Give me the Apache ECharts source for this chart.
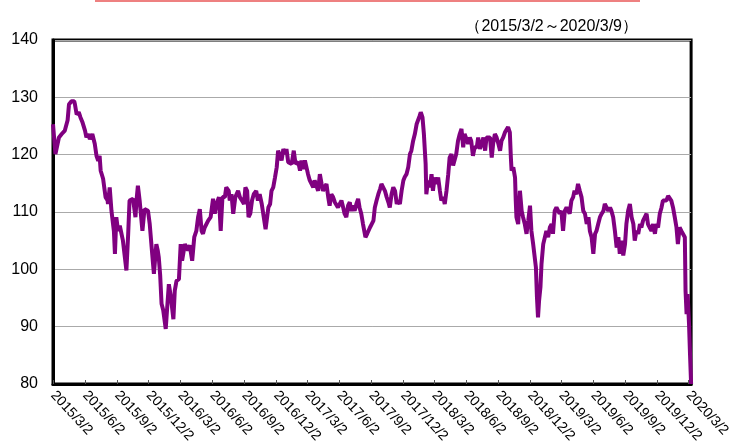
<!DOCTYPE html>
<html>
<head>
<meta charset="utf-8">
<script src="https://cdn.jsdelivr.net/npm/echarts@6/dist/echarts.min.js"></script>
<style>
  html, body { margin: 0; padding: 0; background: #fff; }
  #chart { width: 733px; height: 448px; }
</style>
</head>
<body>
<div id="chart"></div>
<script>
// 期間
const startDate = "2015/3/2";
const endDate = "2020/3/9";
// 目盛りラベル（四半期ごと）
const tickDates = [
  "2015/3/2", "2015/6/2", "2015/9/2", "2015/12/2",
  "2016/3/2", "2016/6/2", "2016/9/2", "2016/12/2",
  "2017/3/2", "2017/6/2", "2017/9/2", "2017/12/2",
  "2018/3/2", "2018/6/2", "2018/9/2", "2018/12/2",
  "2019/3/2", "2019/6/2", "2019/9/2", "2019/12/2",
  "2020/3/2"
];
// 2015/3/2からの経過日数
const dayOffset = [
  0, 7, 17, 25, 34, 42, 46, 53, 61, 63,
  68, 74, 79, 85, 92, 96, 101, 106, 113, 120,
  125, 130, 134, 137, 144, 149, 151, 157, 158, 163,
  168, 175, 178, 182, 187, 192, 201, 211, 216, 220,
  230, 237, 240, 244, 249, 257, 263, 273, 278, 284,
  290, 297, 301, 304, 308, 312, 317, 324, 329, 333,
  339, 346, 350, 355, 362, 367, 371, 379, 384, 388,
  393, 400, 406, 412, 417, 422, 427, 431, 436, 441,
  446, 453, 460, 465, 470, 474, 477, 482, 487, 494,
  498, 505, 508, 513, 518, 524, 532, 537, 543, 549,
  553, 558, 562, 567, 572, 577, 584, 589, 594, 600,
  605, 611, 614, 619, 624, 628, 633, 638, 643, 647,
  652, 657, 662, 667, 671, 676, 681, 686, 692, 697,
  705, 710, 714, 719, 724, 729, 733, 738, 743, 748,
  752, 757, 762, 767, 772, 776, 781, 786, 791, 795,
  800, 805, 810, 814, 819, 824, 829, 834, 838, 843,
  848, 853, 857, 862, 867, 872, 877, 881, 886, 891,
  898, 903, 911, 916, 921, 925, 930, 935, 940, 944,
  949, 954, 959, 964, 968, 973, 978, 983, 988, 992,
  997, 1002, 1007, 1011, 1016, 1021, 1026, 1030, 1035, 1040,
  1045, 1050, 1054, 1057, 1062, 1066, 1071, 1073, 1078, 1083,
  1088, 1092, 1097, 1102, 1107, 1112, 1116, 1121, 1126, 1131,
  1136, 1140, 1145, 1150, 1155, 1159, 1164, 1169, 1174, 1179,
  1183, 1188, 1193, 1198, 1202, 1207, 1212, 1218, 1222, 1227,
  1232, 1237, 1242, 1246, 1251, 1256, 1261, 1265, 1270, 1275,
  1280, 1285, 1289, 1294, 1299, 1304, 1308, 1313, 1316, 1318,
  1323, 1328, 1330, 1332, 1337, 1342, 1347, 1351, 1356, 1361,
  1366, 1371, 1375, 1380, 1385, 1388, 1391, 1394, 1397, 1401,
  1404, 1409, 1413, 1418, 1423, 1428, 1433, 1437, 1442, 1447,
  1452, 1456, 1461, 1466, 1471, 1476, 1480, 1485, 1490, 1495,
  1499, 1504, 1509, 1514, 1519, 1524, 1529, 1534, 1539, 1543,
  1548, 1553, 1558, 1562, 1567, 1572, 1577, 1582, 1586, 1591,
  1596, 1601, 1605, 1610, 1615, 1620, 1625, 1629, 1634, 1639,
  1644, 1648, 1653, 1658, 1663, 1668, 1672, 1677, 1682, 1687,
  1691, 1696, 1701, 1706, 1710, 1715, 1720, 1725, 1730, 1734,
  1739, 1744, 1749, 1753, 1758, 1763, 1768, 1773, 1777, 1782,
  1787, 1792, 1796, 1801, 1806, 1811, 1816, 1818, 1821, 1824,
  1828, 1831, 1834
];
// 指数の値
const values = [
  125.3, 120.1, 123, 123.6, 124.2, 126, 128.8, 129.3, 129.3, 128.8,
  127, 127.4, 126.5, 125.6, 124.2, 123, 123.6, 122.7, 123.6, 121.9,
  119.8, 118.9, 119.8, 117.2, 115.8, 116.1, 112.6, 112, 111.4, 114.3,
  110.2, 106.7, 102.7, 109.1, 106.7, 107.6, 105, 99.8, 106.1, 112,
  112.3, 109.1, 112, 114.6, 112, 106.7, 110.5, 110.2, 107.9, 103.5,
  99.2, 104.4, 103.3, 102.1, 99, 94, 92.8, 89.6, 94, 97.4,
  95.1, 91.3, 96.3, 98, 98.3, 104.4, 101.5, 104.4, 103.8, 103.3,
  104.2, 101.5, 105.6, 106.7, 109.1, 110.5, 106.7, 106.2, 107.3, 107.6,
  108.5, 109.1, 112.3, 109.7, 111.4, 111.1, 112.6, 106.7, 112.6, 112.6,
  114.3, 113.7, 112, 113.1, 109.7, 112.6, 113.7, 112.6, 112, 111.4,
  114.3, 113.7, 109.1, 109.7, 112, 113.1, 113.7, 112, 113.1, 111.4,
  111.4, 107, 106.7, 110.8, 111.4, 113.7, 114.3, 116, 117.8, 120.7,
  121, 119, 121, 120.1, 121, 118.7, 118.4, 118.4, 120.7, 118.4,
  118.7, 117.2, 119, 117.5, 119, 119, 116.6, 115.5, 114.9, 114.3,
  115.5, 115.5, 113.7, 116.6, 114.9, 113.7, 113.7, 114.9, 112.6, 111.1,
  113.1, 112.6, 111.7, 112, 110.8, 110.5, 112, 110.8, 109.7, 109.1,
  111.1, 111.7, 110.2, 111.1, 110.2, 111.4, 112.3, 110.8, 109.7, 107.9,
  105.6, 106.2, 107.3, 107.9, 108.5, 110.8, 112, 113.1, 114, 114.9,
  114.3, 113.7, 112.6, 111.7, 110.8, 113.1, 114.3, 113.7, 111.4, 112,
  111.4, 113.7, 115.5, 116.1, 116.6, 117.8, 120.1, 120.7, 122.4, 123.6,
  125.3, 125.6, 126.8, 127.4, 126.5, 123.6, 118.4, 113.1, 115.5, 114.3,
  116.6, 113.7, 116, 114.9, 116, 113.7, 112, 112.6, 111.4, 113.7,
  116.6, 119.5, 120.1, 118.1, 118.4, 120.1, 122.4, 123.6, 124.5, 121.3,
  123.6, 123.9, 121.9, 123, 122.4, 119.8, 121.3, 121.3, 123, 121,
  121.9, 123, 120.7, 123, 122.7, 123, 119.5, 121.9, 123.6, 123,
  121.9, 120.7, 122.4, 123, 123.9, 123.6, 124.8, 123.9, 119.5, 117.2,
  117.8, 116, 112, 109.1, 107.9, 113.7, 110.2, 109.1, 107.9, 106.2,
  108.5, 111.1, 106.7, 104.4, 104.4, 100.3, 95.1, 91.6, 94.5, 96.9,
  100.9, 104.4, 104.7, 106.7, 105.6, 107.3, 107.9, 106.2, 110.2, 110.8,
  110.2, 109.7, 110.2, 106.7, 110.2, 110.8, 111.1, 109.7, 112, 112.6,
  113.7, 113.1, 114.9, 113.7, 112.6, 110.2, 109.7, 107.9, 109.1, 106.7,
  105.6, 102.7, 106.2, 106.7, 107.9, 109.1, 109.7, 110.2, 111.4, 111.4,
  110.2, 110.8, 110.2, 109.1, 106.7, 103.8, 105.6, 102.7, 105, 102.4,
  104.4, 107.9, 110.2, 111.4, 109.1, 107.9, 105, 106.7, 106.2, 107.9,
  107.3, 108.5, 109.1, 109.7, 107.9, 107.3, 106.7, 107.9, 106.2, 107.9,
  107.3, 109.7, 110.8, 112, 112.3, 112, 112.8, 112.6, 112, 110.8,
  109.1, 107.3, 104.4, 107.3, 106.7, 106.7, 105.6, 96.3, 92.2, 95.7,
  90.5, 85, 80
];

function toDay(str) {
  const p = str.split("/").map(Number);
  const s = startDate.split("/").map(Number);
  return Math.round((Date.UTC(p[0], p[1] - 1, p[2]) - Date.UTC(s[0], s[1] - 1, s[2])) / 86400000);
}

const tickDays = tickDates.map(toDay);
const labelMap = {};
tickDays.forEach((d, i) => { labelMap[d] = tickDates[i]; });
const seriesData = dayOffset.map((d, i) => [d, values[i]]);

const chartInstance = echarts.init(document.getElementById("chart"));
const option = {
  animation: false,
  title: {
    text: "（" + startDate + "～" + endDate + "）",
    right: 90,
    top: 14,
    textStyle: {
      fontSize: 16,
      fontWeight: "normal",
      color: "#000",
      fontFamily: "Liberation Sans Narrow, Liberation Sans, sans-serif"
    }
  },
  graphic: [
    {
      type: "line",
      shape: { x1: 95, y1: 1, x2: 640, y2: 1 },
      style: { stroke: "#ee8080", lineWidth: 2 }
    }
  ],
  grid: {
    left: 53,
    right: 41,
    top: 40,
    bottom: 64,
    show: true,
    borderColor: "#000",
    borderWidth: 3
  },
  xAxis: {
    type: "value",
    min: 0,
    max: toDay(endDate),
    splitLine: { show: false },
    axisLine: { lineStyle: { color: "#000", width: 3 } },
    axisTick: {
      customValues: tickDays,
      inside: true,
      length: 4,
      lineStyle: { color: "#555" }
    },
    axisLabel: {
      customValues: tickDays,
      rotate: -47,
      margin: 9,
      fontSize: 14,
      color: "#000",
      fontFamily: "Liberation Sans Narrow, Liberation Sans, sans-serif",
      formatter: (v) => labelMap[v] || ""
    }
  },
  yAxis: {
    type: "value",
    min: 80,
    max: 140,
    interval: 10,
    axisLine: { show: true, lineStyle: { color: "#000", width: 3 } },
    axisTick: { show: false },
    axisLabel: {
      margin: 15,
      fontSize: 16,
      color: "#000",
      fontFamily: "Liberation Sans, Arial, sans-serif"
    },
    splitLine: { lineStyle: { color: "#aaa", width: 1 } }
  },
  series: [
    {
      type: "line",
      data: seriesData,
      showSymbol: false,
      lineStyle: { color: "#800080", width: 4 },
      itemStyle: { color: "#800080" }
    }
  ]
};
chartInstance.setOption(option);
</script>
</body>
</html>
